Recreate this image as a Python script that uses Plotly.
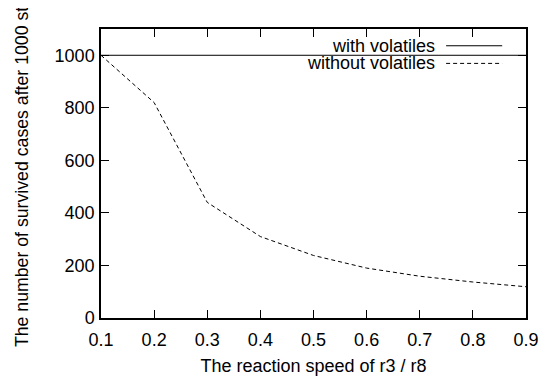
import plotly.graph_objects as go

x_speed = [0.1, 0.2, 0.3, 0.4, 0.5, 0.6, 0.7, 0.8, 0.9]
with_volatiles = [1000, 1000, 1000, 1000, 1000, 1000, 1000, 1000, 1000]
without_volatiles = [1000, 820, 440, 310, 238, 190, 159, 137, 119]
x_ticks = [0.1, 0.2, 0.3, 0.4, 0.5, 0.6, 0.7, 0.8, 0.9]
y_ticks = [0, 200, 400, 600, 800, 1000]

FONT = "Liberation Sans, Arial, sans-serif"
FS = 18
PLOT_W = 425  # plot-area width in px (for paper-coordinate placement)

fig = go.Figure()
fig.add_trace(go.Scatter(x=x_speed, y=with_volatiles, mode="lines",
                         line=dict(color="black", width=1), name="with volatiles",
                         showlegend=False))
fig.add_trace(go.Scatter(x=x_speed, y=without_volatiles, mode="lines",
                         line=dict(color="black", width=1, dash="4px,3px"),
                         name="without volatiles", showlegend=False))

# legend (gnuplot style: text right-aligned, key sample on right)
legend_items = [("with volatiles", "solid", 0.942), ("without volatiles", "4px,3px", 0.881)]
for label, dash, ypos in legend_items:
    fig.add_annotation(x=0.791, y=ypos, xref="paper", yref="paper", text=label,
                       showarrow=False, xanchor="right", yanchor="middle",
                       font=dict(family=FONT, size=FS, color="black"))
    fig.add_shape(type="line", xref="paper", yref="paper", x0=0.812, x1=0.944,
                  y0=ypos, y1=ypos, line=dict(color="black", width=1, dash=dash))

# y-axis title (long; runs past the top edge as in the reference)
fig.add_annotation(x=-79.5 / PLOT_W, y=0.538, xref="paper", yref="paper", xanchor="center",
                   yanchor="middle", text="The number of survived cases after 1000 steps",
                   textangle=-90, showarrow=False,
                   font=dict(family=FONT, size=17.7, color="black"))

axis_common = dict(showline=True, linecolor="black", linewidth=1.5, mirror="ticks",
                   ticks="inside", ticklen=8, tickwidth=1, tickcolor="black",
                   showgrid=False, zeroline=False, automargin=False,
                   tickfont=dict(family=FONT, size=FS, color="black"))

fig.update_xaxes(range=[0.1, 0.9], tickvals=x_ticks, ticktext=[f"{v:.1f}" for v in x_ticks],
                 ticklabelstandoff=5,
                 title=dict(text="The reaction speed of r3 / r8", standoff=10,
                            font=dict(family=FONT, size=FS, color="black")),
                 **axis_common)
fig.update_yaxes(range=[0, 1100], tickvals=y_ticks, ticklabelstandoff=1, **axis_common)

# page body adds an 8px offset, so the figure is 8px smaller with shifted margins
fig.update_layout(width=540, height=373, margin=dict(l=93, r=22, t=21, b=63),
                  paper_bgcolor="white", plot_bgcolor="white",
                  font=dict(family=FONT, size=FS, color="black"))

fig.write_html("out.html")
